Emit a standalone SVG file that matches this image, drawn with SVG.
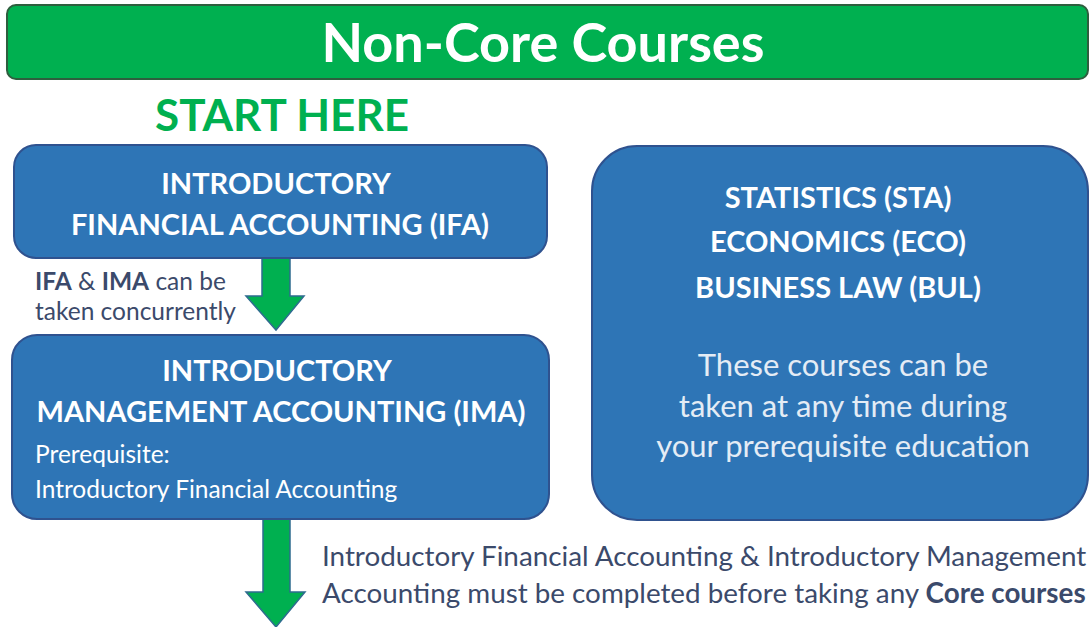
<svg xmlns="http://www.w3.org/2000/svg" width="1092" height="627" viewBox="0 0 1092 627">
<defs>
<style>
.hdr{fill:#00b050;stroke:#2e5e3e;stroke-width:2}
.box{fill:#2e75b6;stroke:#2f528f;stroke-width:2}
.arrow{fill:#00b050;stroke:#2e6b8f;stroke-width:1.5}
text{font-family:Lato,"Open Sans","Liberation Sans",sans-serif}
.title{fill:#ffffff;font-size:54px;font-weight:bold;text-anchor:middle}
.start{fill:#00b050;font-size:44px;font-weight:bold;text-anchor:middle}
.bt{fill:#ffffff;font-size:29px;font-weight:bold;text-anchor:middle}
.st{fill:#ffffff;font-size:24.5px}
.lt{fill:#e4ecf5;font-size:31px;text-anchor:middle}
.note{fill:#3b4a6b;font-size:24.5px}
.note2{fill:#3b4a6b;font-size:27.8px}
.b{font-weight:bold}
</style>
</defs>
<rect width="1092" height="627" fill="#ffffff"/>
<g id="header">
<rect class="hdr" x="7" y="5" width="1081" height="74" rx="9"/>
<text class="title" x="543" y="62">Non-Core Courses</text>
</g>
<g id="start">
<text class="start" x="282" y="131">START HERE</text>
</g>
<g id="connectors">
<path class="arrow" d="M262,258 L290,258 L290,296 L304,296 L276,330 L246,296 L262,296 Z"/>
<path class="arrow" d="M263,519 L290,519 L290,592 L305,592 L276,627 L246,592 L263,592 Z"/>
</g>
<g id="ifa">
<rect class="box" x="14" y="145" width="533" height="113" rx="22"/>
<text class="bt" x="276" y="194">INTRODUCTORY</text>
<text class="bt" x="280" y="235">FINANCIAL ACCOUNTING (IFA)</text>
</g>
<g id="concurrent-label">
<text class="note" x="35" y="290"><tspan class="b">IFA</tspan> &amp; <tspan class="b">IMA</tspan> can be</text>
<text class="note" x="35" y="320">taken concurrently</text>
</g>
<g id="ima">
<rect class="box" x="12" y="335" width="537" height="184" rx="25"/>
<text class="bt" x="277" y="381">INTRODUCTORY</text>
<text class="bt" x="281" y="422">MANAGEMENT ACCOUNTING (IMA)</text>
<text class="st" x="35" y="463">Prerequisite:</text>
<text class="st" x="35" y="498">Introductory Financial Accounting</text>
</g>
<g id="other">
<rect class="box" x="592" y="146" width="496" height="374" rx="45"/>
<text class="bt" x="838" y="208">STATISTICS (STA)</text>
<text class="bt" x="838" y="252">ECONOMICS (ECO)</text>
<text class="bt" x="838" y="298">BUSINESS LAW (BUL)</text>
<text class="lt" x="843" y="376">These courses can be</text>
<text class="lt" x="843" y="417">taken at any time during</text>
<text class="lt" x="843" y="457">your prerequisite education</text>
</g>
<g id="core-note">
<text class="note2" x="322" y="566">Introductory Financial Accounting &amp; Introductory Management</text>
<text class="note2" x="322" y="603">Accounting must be completed before taking any <tspan class="b">Core courses</tspan></text>
</g>
</svg>
